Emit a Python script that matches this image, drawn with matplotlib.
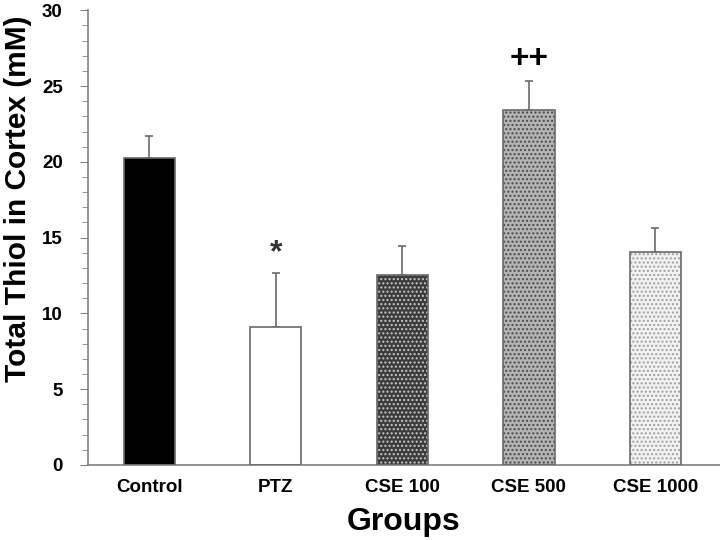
import matplotlib.pyplot as plt
import numpy as np

plt.rcParams['font.family'] = ['Liberation Sans', 'DejaVu Sans']

groups = ["Control", "PTZ", "CSE 100", "CSE 500", "CSE 1000"]
thiol = [20.26, 9.07, 12.52, 23.4, 14.06]
sem = [1.45, 3.6, 1.95, 1.9, 1.55]
marks = ["", "*", "", "++", ""]

# fill, hatch, hatch colour for each bar
faces = ["black", "white", "#3c3c3c", "#b4b4b4", "#f2f2f2"]
hatches = [None, None, "....", "....", "...."]
hatch_cols = ["black", "white", "#c8c8c8", "#4a4a4a", "#a0a0a0"]

fig = plt.figure(figsize=(7.2, 5.4), dpi=100)
ax = fig.add_axes([0.122, 0.139, 0.878, 0.842])

x = np.arange(len(groups))
w = 0.405

ax.bar(x, thiol, width=w, color=faces, edgecolor="none", zorder=2)
for xi, yi, h, hc in zip(x, thiol, hatches, hatch_cols):
    if h:
        ax.bar(xi, yi, width=w, color="none", edgecolor=hc, hatch=h,
               linewidth=0, zorder=3)
ax.bar(x, thiol, width=w, color="none", edgecolor="#6a6a6a", linewidth=1.2, zorder=4)

ax.errorbar(x, thiol, yerr=[np.zeros(len(sem)), sem], fmt="none",
            ecolor="#6a6a6a", elinewidth=1.2, capsize=3, capthick=1.2, zorder=1)

for xi, yi, s, m in zip(x, thiol, sem, marks):
    if m == "*":
        ax.text(xi, yi + s + 0.3, m, ha="center", va="bottom",
                fontsize=23, fontweight="bold", color="#333333")
    elif m:
        ax.text(xi, yi + s + 0.4, m, ha="center", va="bottom",
                fontsize=24, fontweight="bold")

ax.set_xlim(-0.486, 4.51)
ax.set_ylim(0, 30)
ax.set_yticks(np.arange(0, 31, 5))
ax.set_yticks(np.arange(0, 31, 1), minor=True)
ax.set_xticks(x)
ax.set_xticklabels(groups, fontsize=13.5, fontweight="bold")
ax.tick_params(axis="x", length=0, pad=10)
ax.tick_params(axis="y", which="major", length=6, color="#808080", labelsize=13.5, pad=12)
ax.tick_params(axis="y", which="minor", length=4, color="#808080")
for lab in ax.get_yticklabels():
    lab.set_fontweight("bold")

for side in ["top", "right"]:
    ax.spines[side].set_visible(False)
for side in ["left", "bottom"]:
    ax.spines[side].set_color("#808080")
    ax.spines[side].set_linewidth(1.2)

ax.set_ylabel("Total Thiol in Cortex (mM)", fontsize=21.5, fontweight="bold")
ax.yaxis.set_label_coords(-0.088, 0.585)
ax.set_xlabel("Groups", fontsize=23, fontweight="bold", labelpad=8)

fig.savefig("out.png", dpi=100)
